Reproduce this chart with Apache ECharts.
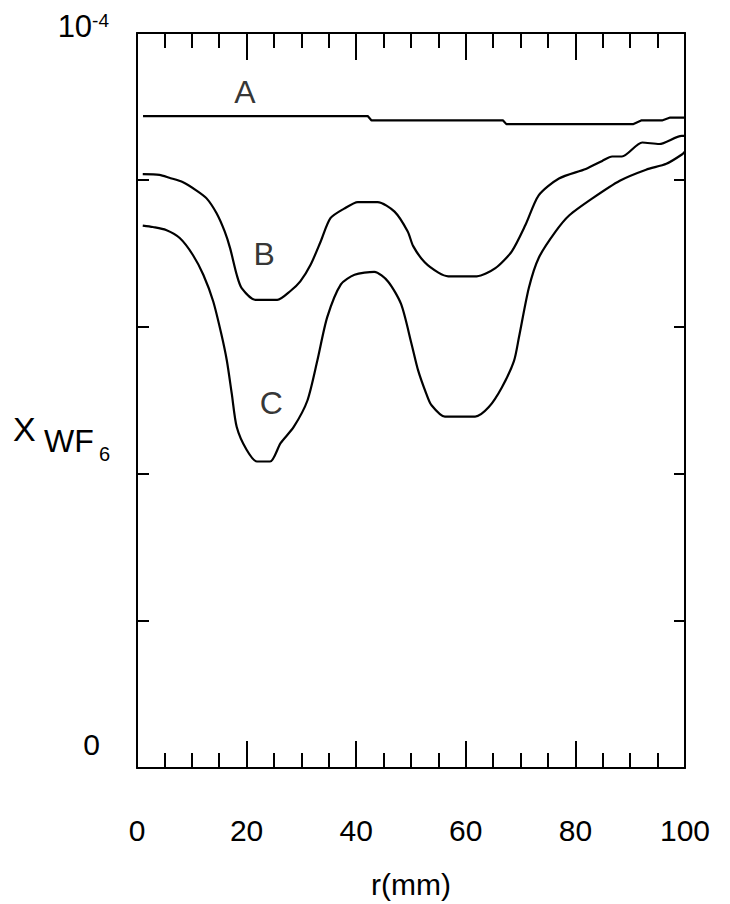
<!DOCTYPE html>
<html>
<head>
<meta charset="utf-8">
<script src="https://cdn.jsdelivr.net/npm/echarts@6/dist/echarts.min.js"></script>
<style>
  html, body { margin: 0; padding: 0; background: #fff; }
  #chart { width: 730px; height: 904px; }
</style>
</head>
<body>
<div id="chart"></div>
<script>
// WF6 mole fraction profiles along the radius r (mm); y values in units of 1e-4.
const xTicks = [0, 20, 40, 60, 80, 100];
const yTickLabels = { 0: '0', 1: '10-4' };

const curveA = [
  [1.1, 0.887], [20, 0.887], [42.1, 0.887], [42.8, 0.881], [55, 0.881], [66.8, 0.881],
  [67.4, 0.876], [80, 0.876], [90.5, 0.876], [92.0, 0.881], [95.8, 0.881],
  [97.3, 0.885], [100, 0.885]
];

const curveB = [
  [1.05, 0.808], [4.1, 0.807], [5.9, 0.803], [8.4, 0.797], [10.8, 0.786], [12.7, 0.775],
  [14.5, 0.755], [16.0, 0.730], [17.0, 0.707], [18.2, 0.671], [19.1, 0.653], [21.6, 0.637],
  [25.6, 0.637], [28.0, 0.649], [29.8, 0.662], [31.7, 0.685], [33.5, 0.716], [35.3, 0.748],
  [37.8, 0.761], [40.3, 0.770], [43.9, 0.770], [47.0, 0.757], [49.4, 0.730], [50.4, 0.710],
  [52.5, 0.688], [55.0, 0.674], [56.8, 0.669], [62.0, 0.669], [65.4, 0.680], [68.4, 0.703],
  [70.9, 0.739], [73.3, 0.779], [77.0, 0.802], [81.9, 0.815], [84.9, 0.826], [86.7, 0.832],
  [88.5, 0.832], [92.2, 0.851], [95.3, 0.849], [99.4, 0.860], [100, 0.860]
];

const curveC = [
  [1.05, 0.738], [2.9, 0.736], [5.3, 0.732], [7.8, 0.721], [10.2, 0.698], [12.1, 0.671],
  [13.9, 0.635], [15.4, 0.590], [16.4, 0.554], [17.3, 0.509], [18.2, 0.464], [20.0, 0.433],
  [21.9, 0.417], [24.3, 0.417], [26.2, 0.442], [28.6, 0.464], [31.1, 0.500], [32.9, 0.554],
  [34.7, 0.613], [37.2, 0.658], [39.7, 0.671], [43.3, 0.675], [45.8, 0.662], [48.2, 0.631],
  [50.1, 0.577], [51.3, 0.541], [52.8, 0.509], [53.7, 0.494], [56.2, 0.478], [61.7, 0.478],
  [64.2, 0.491], [66.6, 0.518], [68.8, 0.554], [69.7, 0.586], [71.5, 0.653], [73.3, 0.694],
  [76.4, 0.730], [78.9, 0.752], [83.1, 0.775], [88.1, 0.799], [92.9, 0.814], [96.6, 0.822],
  [99.5, 0.835], [100, 0.839]
];

// curve letters and where they sit (data coordinates)
const curveNames = ['A', 'B', 'C'];
const namePositions = [[19.7, 0.920], [23.2, 0.700], [24.5, 0.497]];

const FONT = '"Liberation Sans", Arial, Helvetica, sans-serif';
const INK = '#000';

const chart = echarts.init(document.getElementById('chart'), null, { renderer: 'svg' });

const lineSeries = (data, smooth) => ({
  type: 'line',
  data: data,
  showSymbol: false,
  smooth: smooth,
  lineStyle: { color: INK, width: 2.2 },
  silent: true
});

const xAxisBase = {
  type: 'value',
  min: xTicks[0],
  max: xTicks[xTicks.length - 1],
  interval: 20,
  axisLine: { show: true, onZero: false, lineStyle: { color: INK, width: 2 } },
  axisTick: { show: true, inside: true, length: 27, lineStyle: { color: INK, width: 2 } },
  minorTick: { show: true, splitNumber: 4, length: 15, lineStyle: { color: INK, width: 2 } },
  splitLine: { show: false }
};

chart.setOption({
  animation: false,
  backgroundColor: '#fff',
  grid: { left: 137, right: 45, top: 33, bottom: 131, containLabel: false },
  xAxis: [
    Object.assign({}, xAxisBase, {
      position: 'bottom',
      name: 'r(mm)',
      nameLocation: 'middle',
      nameGap: 101,
      nameTextStyle: { fontFamily: FONT, fontSize: 30, color: INK },
      axisLabel: {
        show: true, margin: 47, fontFamily: FONT, fontSize: 30, color: INK,
        formatter: (v) => (xTicks.indexOf(v) >= 0 ? String(v) : '')
      }
    }),
    Object.assign({}, xAxisBase, {
      position: 'top',
      axisLabel: { show: false }
    })
  ],
  yAxis: [
    {
      type: 'value', min: 0, max: 1, interval: 0.2, position: 'left',
      axisLine: { show: true, onZero: false, lineStyle: { color: INK, width: 2 } },
      axisTick: { show: true, inside: true, length: 12, lineStyle: { color: INK, width: 2 } },
      splitLine: { show: false },
      axisLabel: {
        show: true, margin: 27, color: INK, fontFamily: FONT,
        formatter: (v) => {
          if (v === 0) return '{z|' + yTickLabels[0] + '}';
          if (v === 1) return '{t|10}{s|' + yTickLabels[1].slice(2) + '}';
          return '';
        },
        rich: {
          z: { fontFamily: FONT, fontSize: 30, color: INK, padding: [0, 10, 48, 0] },
          t: { fontFamily: FONT, fontSize: 31, color: INK, padding: [0, 0, 14, 0] },
          s: { fontFamily: FONT, fontSize: 19, color: INK, padding: [0, 1, 14, 0], verticalAlign: 'top' }
        }
      }
    },
    {
      type: 'value', min: 0, max: 1, interval: 0.2, position: 'right',
      axisLine: { show: true, onZero: false, lineStyle: { color: INK, width: 2 } },
      axisTick: { show: true, inside: true, length: 11, lineStyle: { color: INK, width: 2 } },
      splitLine: { show: false },
      axisLabel: { show: false }
    }
  ],
  series: [
    lineSeries(curveA, false),
    lineSeries(curveB, 0.25),
    lineSeries(curveC, 0.25),
    {
      type: 'scatter',
      silent: true,
      symbolSize: 1,
      itemStyle: { color: 'rgba(0,0,0,0)' },
      data: namePositions.map((p, i) => ({ value: p, name: curveNames[i] })),
      label: {
        show: true, position: 'inside', formatter: (p) => p.name,
        fontFamily: FONT, fontSize: 32, color: INK, textBorderWidth: 0
      }
    }
  ],
  graphic: [
    { type: 'text', left: 13, top: 412, style: { text: 'X', font: '34px ' + FONT, fill: INK } },
    { type: 'text', left: 44, top: 425, style: { text: 'WF', font: '32px ' + FONT, fill: INK } },
    { type: 'text', left: 99, top: 444, style: { text: '6', font: '20px ' + FONT, fill: INK } }
  ]
});
</script>
</body>
</html>
